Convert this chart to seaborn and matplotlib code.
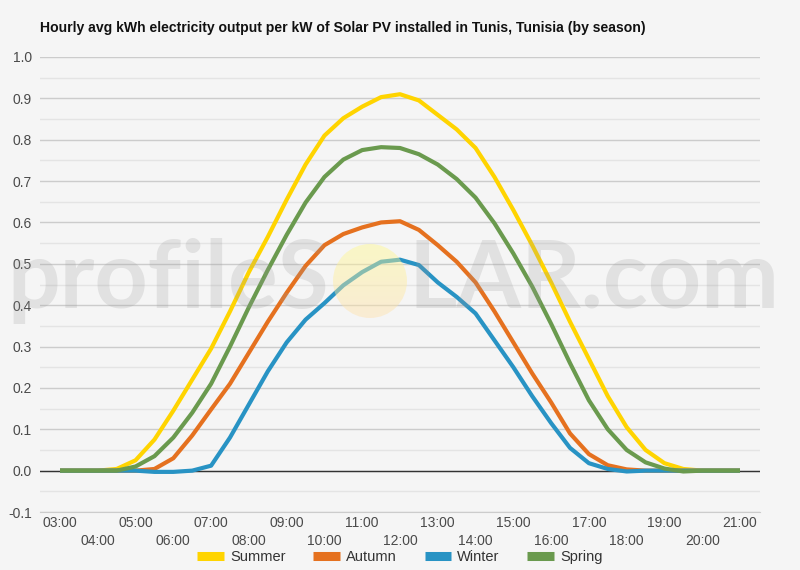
import numpy as np
import pandas as pd
import seaborn as sns
import matplotlib.pyplot as plt
from matplotlib.lines import Line2D
from matplotlib.patches import Circle

# ---------------- data ----------------
hours = [3.0 + 0.5 * i for i in range(37)]  # 03:00 .. 21:00, half-hourly

summer = [0, 0, 0, 0.004, 0.025, 0.075, 0.145, 0.22, 0.295, 0.385, 0.48, 0.565,
          0.655, 0.74, 0.81, 0.852, 0.88, 0.903, 0.91, 0.895, 0.86, 0.825, 0.78,
          0.71, 0.63, 0.545, 0.455, 0.36, 0.27, 0.18, 0.105, 0.05, 0.018, 0.004,
          0, 0, 0]
autumn = [0, 0, 0, 0, 0, 0.004, 0.03, 0.085, 0.148, 0.21, 0.285, 0.36, 0.43,
          0.495, 0.545, 0.572, 0.588, 0.6, 0.603, 0.582, 0.545, 0.505, 0.455, 0.385,
          0.31, 0.235, 0.165, 0.09, 0.04, 0.013, 0.003, 0, 0, 0, 0, 0, 0]
winter = [0, 0, 0, 0, 0, -0.003, -0.003, 0, 0.012, 0.08, 0.16, 0.24, 0.31,
          0.365, 0.405, 0.448, 0.48, 0.505, 0.51, 0.497, 0.455, 0.42, 0.38, 0.315,
          0.25, 0.18, 0.115, 0.055, 0.018, 0.004, -0.002, 0, 0, 0, 0, 0, 0]
spring = [0, 0, 0, 0, 0.01, 0.035, 0.08, 0.14, 0.21, 0.30, 0.395, 0.485, 0.57,
          0.648, 0.71, 0.752, 0.775, 0.782, 0.78, 0.765, 0.74, 0.705, 0.66, 0.598,
          0.525, 0.445, 0.355, 0.26, 0.17, 0.10, 0.05, 0.02, 0.005, -0.002, 0, 0, 0]

seasons = ["Summer", "Autumn", "Winter", "Spring"]
colors = ["#FFD400", "#E5711F", "#2893C4", "#6A9A4E"]

odd_hours = [3, 5, 7, 9, 11, 13, 15, 17, 19, 21]
odd_labels = ["03:00", "05:00", "07:00", "09:00", "11:00", "13:00", "15:00",
              "17:00", "19:00", "21:00"]
even_hours = [4, 6, 8, 10, 12, 14, 16, 18, 20]
even_labels = ["04:00", "06:00", "08:00", "10:00", "12:00", "14:00", "16:00",
               "18:00", "20:00"]
y_ticks = [-0.1, 0.0, 0.1, 0.2, 0.3, 0.4, 0.5, 0.6, 0.7, 0.8, 0.9, 1.0]
title = "Hourly avg kWh electricity output per kW of Solar PV installed in Tunis, Tunisia (by season)"

series = {"Summer": summer, "Autumn": autumn, "Winter": winter, "Spring": spring}
df = pd.concat(
    [pd.DataFrame({"hour": hours, "kwh": v, "season": k}) for k, v in series.items()],
    ignore_index=True)

plt.rcParams["font.family"] = ["Liberation Sans", "DejaVu Sans"]

# ---------------- figure ----------------
BG = "#f5f5f5"
fig = plt.figure(figsize=(8, 5.7), dpi=100, facecolor=BG)
ax = fig.add_axes([0.05, 1 - 512 / 570, 0.90, (512 - 57) / 570])
ax.set_facecolor(BG)

sns.lineplot(data=df, x="hour", y="kwh", hue="season", hue_order=seasons,
             palette=colors, linewidth=3.0, ax=ax, legend=False,
             estimator=None, sort=False)
for ln in ax.lines:
    ln.set_solid_capstyle("butt")
    ln.set_solid_joinstyle("round")
    ln.set_zorder(3)

ax.set_xlim(3 - 20 / 37.78, 21 + 20 / 37.78)
ax.set_ylim(-0.1, 1.0)

ax.set_yticks(y_ticks)
ax.set_yticklabels([f"{t:.1f}" for t in y_ticks])
ax.set_yticks([-0.05 + 0.1 * i for i in range(11)], minor=True)
ax.grid(axis="y", which="major", color="#cccccc", linewidth=1, zorder=0)
ax.grid(axis="y", which="minor", color="#e4e4e4", linewidth=1, zorder=0)
ax.grid(axis="x", visible=False)
ax.axhline(0, color="#333333", linewidth=1, zorder=2)

ax.set_xticks(odd_hours)
ax.set_xticklabels(odd_labels)
ax.set_xticks(even_hours, minor=True)
ax.set_xticklabels(even_labels, minor=True)

ax.tick_params(axis="y", which="both", length=0, pad=6, labelsize=10,
               labelcolor="#4a4a4a")
ax.tick_params(axis="x", which="major", length=0, pad=3, labelsize=10,
               labelcolor="#4a4a4a")
ax.tick_params(axis="x", which="minor", length=0, pad=16, labelsize=10,
               labelcolor="#4a4a4a")
ax.set_xlabel("")
ax.set_ylabel("")
for s in ["top", "right", "left"]:
    ax.spines[s].set_visible(False)
ax.spines["bottom"].set_color("#cccccc")

fig.text(40 / 800, 1 - 28 / 570, title, fontsize=10.1, fontweight="bold",
         ha="left", va="center", color="#111111")

handles = [Line2D([0], [0], color=c, linewidth=6.5, solid_capstyle="butt")
           for c in colors]
leg = fig.legend(handles, seasons, loc="center", bbox_to_anchor=(0.5, 1 - 557 / 570),
                 ncol=4, frameon=False, fontsize=10.5, handlelength=1.8,
                 handletextpad=0.45, columnspacing=1.9)
for t in leg.get_texts():
    t.set_color("#333333")

# ---------------- watermark ----------------
wm_kw = dict(fontsize=67, color="#9a9a9a", alpha=0.22, fontweight="bold",
             family="Lato", va="baseline", zorder=10)
fig.text(329 / 800, 1 - 308 / 570, "profileS", ha="right", **wm_kw)
fig.text(408 / 800, 1 - 308 / 570, "LAR.com", ha="left", **wm_kw)

r = 37
sun_ax = fig.add_axes([(370 - r) / 800, 1 - (281 + r) / 570, 2 * r / 800, 2 * r / 570])
sun_ax.set_zorder(11)
sun_ax.patch.set_alpha(0)
sun_ax.axis("off")
grad = np.linspace(0, 1, 64)[:, None]
img = sun_ax.imshow(np.dstack([np.ones((64, 1)),
                               0.98 - 0.10 * grad,
                               0.55 + 0.12 * grad]),
                    extent=(0, 1, 0, 1), origin="upper", alpha=0.45, aspect="auto")
clip = Circle((0.5, 0.5), 0.5, transform=sun_ax.transAxes)
img.set_clip_path(clip)

fig.savefig("out.png", dpi=100, facecolor=BG)
